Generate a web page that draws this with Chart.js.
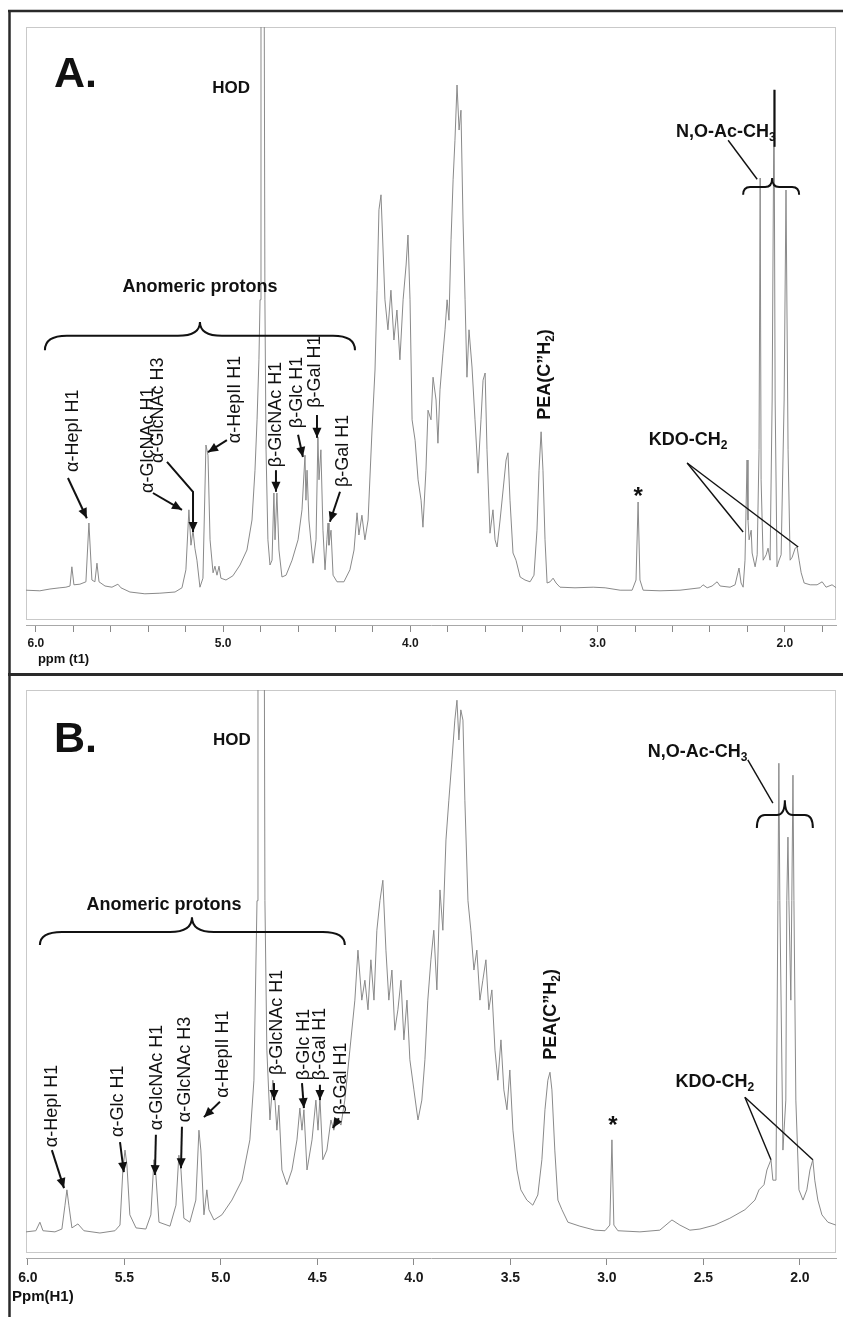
<!DOCTYPE html>
<html><head><meta charset="utf-8">
<script src="https://cdn.jsdelivr.net/npm/chart.js@4.4.1/dist/chart.umd.min.js"></script>
<style>
html,body{margin:0;padding:0;background:#fff;}
#wrap{position:relative;width:843px;height:1317px;overflow:hidden;background:#fff;}
#cA{position:absolute;left:0;top:0;}
#cB{position:absolute;left:0;top:673px;}
</style></head><body><div id="wrap"><canvas id="cA" width="843" height="673"></canvas><canvas id="cB" width="843" height="644"></canvas></div>
<script>
// ---------- Panel A spectrum (ppm, intensity a.u.) ----------
const specA_ppm = [6.053,5.979,5.925,5.872,5.840,5.818,5.808,5.797,5.765,5.733,5.717,5.701,5.685,5.674,5.663,5.631,5.594,5.562,5.546,5.498,5.418,5.338,5.257,5.220,5.199,5.183,5.172,5.161,5.151,5.140,5.124,5.108,5.092,5.081,5.070,5.054,5.044,5.033,5.022,5.012,4.985,4.948,4.910,4.873,4.846,4.830,4.819,4.809,4.803,4.798,4.782,4.777,4.771,4.761,4.750,4.739,4.729,4.723,4.713,4.702,4.686,4.664,4.632,4.600,4.579,4.563,4.558,4.552,4.542,4.520,4.504,4.494,4.488,4.478,4.467,4.456,4.446,4.440,4.435,4.424,4.413,4.392,4.355,4.323,4.301,4.285,4.275,4.259,4.243,4.226,4.205,4.189,4.178,4.168,4.157,4.146,4.136,4.120,4.104,4.088,4.072,4.056,4.039,4.023,4.013,4.002,3.991,3.975,3.959,3.943,3.933,3.917,3.906,3.890,3.879,3.863,3.853,3.842,3.826,3.815,3.804,3.794,3.783,3.772,3.762,3.751,3.740,3.730,3.719,3.708,3.698,3.687,3.671,3.655,3.639,3.623,3.612,3.601,3.591,3.575,3.559,3.548,3.537,3.521,3.505,3.489,3.479,3.468,3.452,3.436,3.414,3.388,3.361,3.340,3.324,3.313,3.302,3.292,3.281,3.270,3.254,3.238,3.222,3.201,3.121,3.024,2.960,2.880,2.816,2.795,2.784,2.774,2.757,2.667,2.560,2.453,2.437,2.415,2.389,2.362,2.346,2.293,2.266,2.245,2.234,2.223,2.213,2.202,2.197,2.191,2.180,2.175,2.159,2.148,2.138,2.132,2.127,2.116,2.100,2.090,2.079,2.068,2.058,2.052,2.042,2.031,2.020,2.004,1.994,1.983,1.972,1.961,1.945,1.935,1.924,1.913,1.897,1.865,1.828,1.801,1.780,1.748,1.726];
const specA_int = [5.8,5.7,6.0,6.2,6.3,6.5,9.7,6.7,6.8,7.2,17.0,7.5,7.2,10.3,7.2,6.5,6.3,6.8,6.2,5.5,5.2,5.3,5.5,6.2,9.2,19.2,13.3,15.8,12.8,10.8,6.3,7.8,30.0,28.3,14.2,8.7,9.8,8.3,9.8,7.8,7.5,8.2,10.0,12.5,17.5,25.8,34.2,44.2,54.2,120,120,54.2,29.2,14.2,10.0,10.8,22.0,14.2,22.0,12.5,8.0,8.3,10.8,14.2,19.2,28.3,20.8,25.8,17.5,10.3,14.2,31.3,24.2,29.2,15.8,9.2,14.2,17.0,13.3,15.8,8.3,7.2,7.2,9.2,12.5,18.7,15.0,18.3,14.2,17.5,32.5,42.5,55.8,69.2,71.7,62.5,54.2,49.2,55.8,47.5,52.5,44.2,54.2,60.0,65.0,54.2,34.2,30.8,24.2,20.8,16.3,25.8,35.8,34.2,41.3,37.5,30.3,39.2,45.3,49.2,54.2,50.8,64.2,74.2,80.8,90.0,82.5,85.8,67.5,54.2,41.3,49.2,43.0,34.2,25.3,34.2,40.8,42.0,29.2,15.3,19.2,14.2,13.0,17.5,22.5,27.5,28.7,20.8,12.0,10.8,8.0,7.5,7.2,8.3,15.8,25.8,32.2,25.8,14.2,7.0,7.2,7.8,7.0,6.3,6.2,6.3,6.2,5.8,5.8,7.5,20.5,7.5,5.8,5.7,5.8,6.2,6.7,6.2,6.5,7.2,6.5,6.3,6.7,9.5,7.0,6.3,10.8,27.5,17.5,14.2,15.8,12.0,9.7,11.7,29.2,74.5,24.2,10.8,11.7,12.8,10.8,37.5,89.2,37.5,9.7,10.8,11.7,37.5,72.5,29.2,10.8,11.3,12.8,13.0,10.8,8.7,7.0,6.7,6.7,7.2,6.3,6.7,6.2];

// ---------- Panel B spectrum ----------
const specB_ppm = [6.010,5.959,5.938,5.922,5.860,5.824,5.808,5.798,5.788,5.772,5.741,5.710,5.627,5.549,5.523,5.508,5.497,5.487,5.472,5.440,5.389,5.363,5.347,5.337,5.321,5.264,5.233,5.218,5.207,5.192,5.161,5.130,5.114,5.104,5.088,5.073,5.062,5.036,4.995,4.943,4.891,4.850,4.829,4.813,4.808,4.777,4.772,4.762,4.746,4.731,4.720,4.710,4.700,4.684,4.658,4.632,4.606,4.591,4.580,4.570,4.554,4.528,4.508,4.497,4.487,4.472,4.451,4.430,4.415,4.399,4.378,4.358,4.332,4.306,4.290,4.270,4.254,4.238,4.223,4.207,4.192,4.176,4.161,4.145,4.130,4.114,4.099,4.083,4.067,4.052,4.036,4.021,4.000,3.979,3.959,3.943,3.928,3.912,3.897,3.881,3.865,3.850,3.834,3.819,3.803,3.788,3.777,3.767,3.757,3.746,3.736,3.720,3.705,3.689,3.674,3.658,3.643,3.627,3.612,3.596,3.580,3.565,3.549,3.534,3.518,3.503,3.487,3.466,3.446,3.415,3.384,3.358,3.337,3.321,3.306,3.295,3.285,3.270,3.254,3.233,3.202,3.140,3.062,3.010,2.985,2.974,2.964,2.943,2.829,2.726,2.663,2.622,2.570,2.518,2.441,2.363,2.285,2.233,2.212,2.186,2.171,2.150,2.140,2.124,2.114,2.109,2.104,2.088,2.073,2.068,2.062,2.057,2.047,2.042,2.036,2.031,2.021,2.005,1.984,1.964,1.948,1.933,1.923,1.907,1.886,1.855,1.814];
const specB_int = [4.6,4.8,6.3,4.8,4.6,5.1,9.3,12.0,9.3,5.3,6.0,4.8,4.4,4.8,5.8,15.5,19.0,16.4,7.6,5.3,5.1,7.6,17.3,14.6,6.3,5.6,9.3,18.1,15.5,7.0,6.3,10.2,22.5,19.0,7.6,12.0,8.5,6.7,7.6,10.2,13.7,20.8,31.3,62.9,130,130,62.9,36.6,24.3,31.3,27.8,22.5,26.9,15.5,12.9,15.5,20.8,26.4,22.5,26.1,15.5,20.8,27.8,22.5,28.2,17.3,19.0,24.3,22.5,24.6,23.4,27.8,36.6,45.4,54.2,45.4,48.9,43.7,52.5,45.4,57.7,62.9,66.5,54.2,45.4,50.7,40.1,43.7,48.9,38.4,45.4,34.9,29.6,24.3,27.8,34.9,45.4,52.5,57.7,47.2,64.8,57.7,73.6,80.6,87.7,94.7,98.2,91.2,96.5,94.7,80.6,62.9,57.7,50.7,54.2,45.4,48.9,52.5,43.7,47.2,36.6,31.3,38.4,29.6,26.1,33.1,22.5,15.5,12.0,10.2,9.3,11.1,17.3,26.1,31.3,32.7,29.6,19.0,10.2,8.5,6.3,5.6,4.9,4.8,5.8,20.8,5.8,4.8,4.6,4.9,6.7,5.8,4.9,5.1,5.8,7.0,8.5,10.2,12.0,12.9,15.5,17.3,13.7,13.7,62.9,87.1,62.9,19.0,27.8,62.9,74.1,62.9,45.4,62.9,85.0,62.9,27.8,12.0,10.2,12.0,15.5,17.3,13.7,10.2,7.6,6.3,5.8];

// ---------- Axis ticks ----------
const ticksA_major = [6.0, 5.0, 4.0, 3.0, 2.0];
const ticksA_minor = [5.8, 5.6, 5.4, 5.2, 4.8, 4.6, 4.4, 4.2, 3.8, 3.6, 3.4, 3.2, 2.8, 2.6, 2.4, 2.2, 1.8];
const ticksB_major = [6.0, 5.5, 5.0, 4.5, 4.0, 3.5, 3.0, 2.5, 2.0];
const ticksB_minor = [];
const axisTitleA = 'ppm (t1)';
const axisTitleB = 'Ppm(H1)';

// ---------- Annotations (data coordinates: ppm, intensity) ----------
const FONT = '"Liberation Sans", Arial, sans-serif';
const ANNO_A = [
  {t:'text', x:5.904, y:91.7, s:'A.', size:43, bold:true, align:'left'},
  {t:'text', x:4.958, y:89.5, s:'HOD', size:17, bold:true, align:'center'},
  {t:'text', x:2.581, y:82.2, segs:[{s:'N,O-Ac-CH'},{s:'3',sub:true}], size:18, bold:true, align:'left'},
  {t:'line', pts:[[2.303,80.8],[2.148,74.3]], w:1.4},
  {t:'brace', x1:2.223, x2:1.924, xc:2.068, yE:71.7, yM:73.0, yT:74.5, r:7},
  {t:'line', pts:[[2.055,89.2],[2.055,79.7]], w:2},
  {t:'text', x:5.124, y:56.3, s:'Anomeric protons', size:18, bold:true, align:'center'},
  {t:'brace', x1:5.952, x2:4.296, xc:5.124, yE:45.8, yM:48.2, yT:50.5, r:22},
  {t:'rtext', x:5.802, y:25.5, s:'α-HepI H1'},
  {t:'arrow', pts:[[5.829,24.5],[5.728,17.8]]},
  {t:'rtext', x:5.402, y:22.0, s:'α-GlcNAc H1'},
  {t:'arrow', pts:[[5.375,22.0],[5.220,19.2]]},
  {t:'rtext', x:5.348, y:27.0, s:'α-GlcNAc H3'},
  {t:'arrow', pts:[[5.300,27.2],[5.161,22.2],[5.161,15.5]]},
  {t:'rtext', x:4.937, y:30.3, s:'α-HepII H1'},
  {t:'arrow', pts:[[4.980,30.8],[5.081,28.8]]},
  {t:'rtext', x:4.718, y:26.3, s:'β-GlcNAc H1'},
  {t:'arrow', pts:[[4.718,25.8],[4.718,22.2]]},
  {t:'rtext', x:4.606, y:32.8, s:'β-Glc H1'},
  {t:'arrow', pts:[[4.600,31.7],[4.574,28.0]]},
  {t:'rtext', x:4.510, y:36.2, s:'β-Gal H1'},
  {t:'arrow', pts:[[4.499,35.0],[4.499,31.2]]},
  {t:'rtext', x:4.360, y:23.0, s:'β-Gal H1'},
  {t:'arrow', pts:[[4.376,22.2],[4.430,17.2]]},
  {t:'rtext', x:3.281, y:34.2, segs:[{s:'PEA(C\u201dH'},{s:'2',sub:true},{s:')'}], bold:true},
  {t:'text', x:2.784, y:21.3, s:'*', size:24, bold:true, align:'center'},
  {t:'text', x:2.517, y:30.8, segs:[{s:'KDO-CH'},{s:'2',sub:true}], size:18, bold:true, align:'center'},
  {t:'line', pts:[[2.522,27.0],[2.223,15.5]], w:1.4},
  {t:'line', pts:[[2.522,27.0],[1.929,13.0]], w:1.4}
];
const ANNO_B = [
  {t:'text', x:5.865, y:91.2, s:'B.', size:43, bold:true, align:'left'},
  {t:'text', x:4.943, y:91.2, s:'HOD', size:17, bold:true, align:'center'},
  {t:'text', x:2.788, y:89.1, segs:[{s:'N,O-Ac-CH'},{s:'3',sub:true}], size:18, bold:true, align:'left'},
  {t:'line', pts:[[2.270,87.7],[2.140,80.1]], w:1.4},
  {t:'brace', x1:2.223, x2:1.933, xc:2.078, yE:75.7, yM:78.0, yT:80.6, r:8},
  {t:'text', x:5.295, y:62.1, s:'Anomeric protons', size:18, bold:true, align:'center'},
  {t:'brace', x1:5.938, x2:4.358, xc:5.150, yE:55.1, yM:57.4, yT:60.0, r:22},
  {t:'rtext', x:5.876, y:19.5, s:'α-HepI H1'},
  {t:'arrow', pts:[[5.876,19.0],[5.813,12.3]]},
  {t:'rtext', x:5.534, y:21.3, s:'α-Glc H1'},
  {t:'arrow', pts:[[5.523,20.4],[5.503,15.1]]},
  {t:'rtext', x:5.332, y:22.5, s:'α-GlcNAc H1'},
  {t:'arrow', pts:[[5.337,21.7],[5.342,14.6]]},
  {t:'rtext', x:5.187, y:23.9, s:'α-GlcNAc H3'},
  {t:'arrow', pts:[[5.202,23.1],[5.207,15.8]]},
  {t:'rtext', x:4.990, y:28.2, s:'α-HepII H1'},
  {t:'arrow', pts:[[5.005,27.5],[5.088,24.8]]},
  {t:'rtext', x:4.710, y:32.2, s:'β-GlcNAc H1'},
  {t:'arrow', pts:[[4.725,30.8],[4.725,27.8]]},
  {t:'rtext', x:4.570, y:31.3, s:'β-Glc H1'},
  {t:'arrow', pts:[[4.580,30.8],[4.570,26.4]]},
  {t:'rtext', x:4.487, y:31.3, s:'β-Gal H1'},
  {t:'arrow', pts:[[4.487,30.5],[4.487,27.8]]},
  {t:'rtext', x:4.378, y:25.2, s:'β-Gal H1'},
  {t:'arrow', pts:[[4.389,24.6],[4.420,22.9]]},
  {t:'rtext', x:3.290, y:34.9, segs:[{s:'PEA(C\u201dH'},{s:'2',sub:true},{s:')'}], bold:true},
  {t:'text', x:2.969, y:23.1, s:'*', size:24, bold:true, align:'center'},
  {t:'text', x:2.441, y:31.0, segs:[{s:'KDO-CH'},{s:'2',sub:true}], size:18, bold:true, align:'center'},
  {t:'line', pts:[[2.285,28.3],[2.150,17.3]], w:1.4},
  {t:'line', pts:[[2.285,28.3],[1.933,17.3]], w:1.4}
];

// ---------- drawing helpers ----------
function fontStr(size, bold){ return (bold?'bold ':'')+size+'px '+FONT; }
function segsOf(a){ return a.segs || [{s:a.s}]; }
function measureSegs(ctx, segs, size, bold){
  let w=0; for(const g of segs){ ctx.font = fontStr(g.sub?Math.round(size*0.68):size, bold); w += ctx.measureText(g.s).width; } return w;
}
function drawSegs(ctx, segs, x0, size, bold){
  let x=x0;
  for(const g of segs){
    const sz = g.sub?Math.round(size*0.68):size;
    ctx.font = fontStr(sz, bold);
    ctx.fillText(g.s, x, g.sub? size*0.3 : 0);
    x += ctx.measureText(g.s).width;
  }
}
function arrowHead(ctx, x0,y0,x1,y1){
  const a=Math.atan2(y1-y0,x1-x0), L=10, W=4.5;
  ctx.beginPath();
  ctx.moveTo(x1,y1);
  ctx.lineTo(x1-L*Math.cos(a)+W*Math.sin(a), y1-L*Math.sin(a)-W*Math.cos(a));
  ctx.lineTo(x1-L*Math.cos(a)-W*Math.sin(a), y1-L*Math.sin(a)+W*Math.cos(a));
  ctx.closePath(); ctx.fill();
}
function drawAnnotations(chart, annos){
  const ctx=chart.ctx, xs=chart.scales.x, ys=chart.scales.y;
  const px=v=>xs.getPixelForValue(v), py=v=>ys.getPixelForValue(v);
  ctx.save();
  ctx.fillStyle='#111'; ctx.strokeStyle='#111'; ctx.textBaseline='middle';
  for(const a of annos){
    if(a.t==='text'){
      const segs=segsOf(a); const w=measureSegs(ctx,segs,a.size,a.bold);
      const x0 = a.align==='center'? px(a.x)-w/2 : px(a.x);
      ctx.textAlign='left';
      ctx.save(); ctx.translate(0, py(a.y)); drawSegs(ctx,segs,x0,a.size,a.bold); ctx.restore();
    } else if(a.t==='rtext'){
      const size=a.size||18;
      ctx.save(); ctx.translate(px(a.x), py(a.y)); ctx.rotate(-Math.PI/2); ctx.textAlign='left';
      drawSegs(ctx, segsOf(a), 0, size, !!a.bold); ctx.restore();
    } else if(a.t==='line' || a.t==='arrow'){
      ctx.lineWidth = a.w || 2; ctx.beginPath();
      a.pts.forEach((p,i)=>{ const X=px(p[0]),Y=py(p[1]); if(i===0) ctx.moveTo(X,Y); else ctx.lineTo(X,Y); });
      ctx.stroke();
      if(a.t==='arrow'){
        const n=a.pts.length, p0=a.pts[n-2], p1=a.pts[n-1];
        arrowHead(ctx,px(p0[0]),py(p0[1]),px(p1[0]),py(p1[1]));
      }
    } else if(a.t==='brace'){
      const X1=px(a.x1), X2=px(a.x2), XC=px(a.xc), YE=py(a.yE), YM=py(a.yM), YT=py(a.yT), r=a.r;
      ctx.lineWidth=2; ctx.beginPath();
      ctx.moveTo(X1,YE); ctx.quadraticCurveTo(X1,YM,X1+r,YM); ctx.lineTo(XC-r,YM);
      ctx.quadraticCurveTo(XC,YM,XC,YT); ctx.quadraticCurveTo(XC,YM,XC+r,YM);
      ctx.lineTo(X2-r,YM); ctx.quadraticCurveTo(X2,YM,X2,YE); ctx.stroke();
    }
  }
  ctx.restore();
}

function makePlugin(annos, opts){
  return {
    id:'decor',
    beforeDraw(chart){
      const ctx=chart.ctx; ctx.save(); ctx.fillStyle='#fff'; ctx.fillRect(0,0,chart.width,chart.height);
      ctx.strokeStyle='#2a2a2a'; ctx.lineWidth=opts.frameW;
      ctx.beginPath(); ctx.moveTo(8,opts.frameTop); ctx.lineTo(chart.width,opts.frameTop); ctx.stroke();
      ctx.lineWidth=2.5; ctx.beginPath(); ctx.moveTo(9.5,opts.frameTop-1); ctx.lineTo(9.5,chart.height); ctx.stroke();
      ctx.restore();
    },
    beforeDatasetsDraw(chart){
      const ctx=chart.ctx, ca=chart.chartArea; ctx.save(); ctx.strokeStyle='#c9c9c9'; ctx.lineWidth=1;
      ctx.strokeRect(ca.left+0.5, ca.top+0.5, ca.right-ca.left-1, ca.bottom-opts.boxGap-ca.top);
      ctx.restore();
    },
    afterDatasetsDraw(chart){
      drawAnnotations(chart, annos);
      const ctx=chart.ctx, xs=chart.scales.x; ctx.save(); ctx.fillStyle='#111'; ctx.textBaseline='middle';
      ctx.font=fontStr(opts.titleSize,true); ctx.textAlign='left';
      ctx.fillText(opts.title, opts.titleX(xs), opts.titleY);
      ctx.restore();
    }
  };
}

function makeChart(id, ppm, inten, major, minor, annos, o){
  const all=[...major,...minor].sort((a,b)=>b-a);
  return new Chart(document.getElementById(id), {
    type:'line',
    data:{datasets:[{data:ppm.map((p,i)=>({x:p,y:inten[i]})), borderColor:'#8a8a8a', borderWidth:1, pointRadius:0, tension:0, fill:false}]},
    options:{
      responsive:false, animation:false, devicePixelRatio:1,
      layout:{padding:{left:26,right:7,top:o.padTop,bottom:0}},
      plugins:{legend:{display:false}, tooltip:{enabled:false}},
      scales:{
        x:{type:'linear', reverse:true, min:o.xmin, max:o.xmax,
           afterBuildTicks:(s)=>{ s.ticks = all.map(v=>({value:v})); },
           afterFit:(s)=>{ s.height=o.axisH; },
           grid:{drawOnChartArea:false, drawTicks:true, tickLength:o.tickLen, color:'#8a8a8a', tickColor:'#8a8a8a'},
           border:{display:true, color:'#a8a8a8', width:1},
           ticks:{autoSkip:false, maxRotation:0, padding:o.tickPad, color:'#1a1a1a',
                  font:{family:'Liberation Sans', size:o.tickSize, weight:'bold'},
                  callback:(v)=> major.some(m=>Math.abs(m-v)<1e-6) ? Number(v).toFixed(1) : ''}},
        y:{display:false, min:0, max:o.ymax}
      }
    },
    plugins:[makePlugin(annos, o)]
  });
}

makeChart('cA', specA_ppm, specA_int, ticksA_major, ticksA_minor, ANNO_A,
  {padTop:27, xmin:1.727, xmax:6.053, ymax:99.67, axisH:48, tickLen:7, tickPad:4, tickSize:12,
   frameTop:11, frameW:2.5, boxGap:6, title:axisTitleA, titleSize:13, titleY:659,
   titleX:(xs)=>xs.getPixelForValue(6.0)+2});
makeChart('cB', specB_ppm, specB_int, ticksB_major, ticksB_minor, ANNO_B,
  {padTop:17, xmin:1.813, xmax:6.010, ymax:100, axisH:59, tickLen:7, tickPad:5, tickSize:14,
   frameTop:1.5, frameW:3, boxGap:6, title:axisTitleB, titleSize:15, titleY:624,
   titleX:(xs)=>12});
</script></body></html>
